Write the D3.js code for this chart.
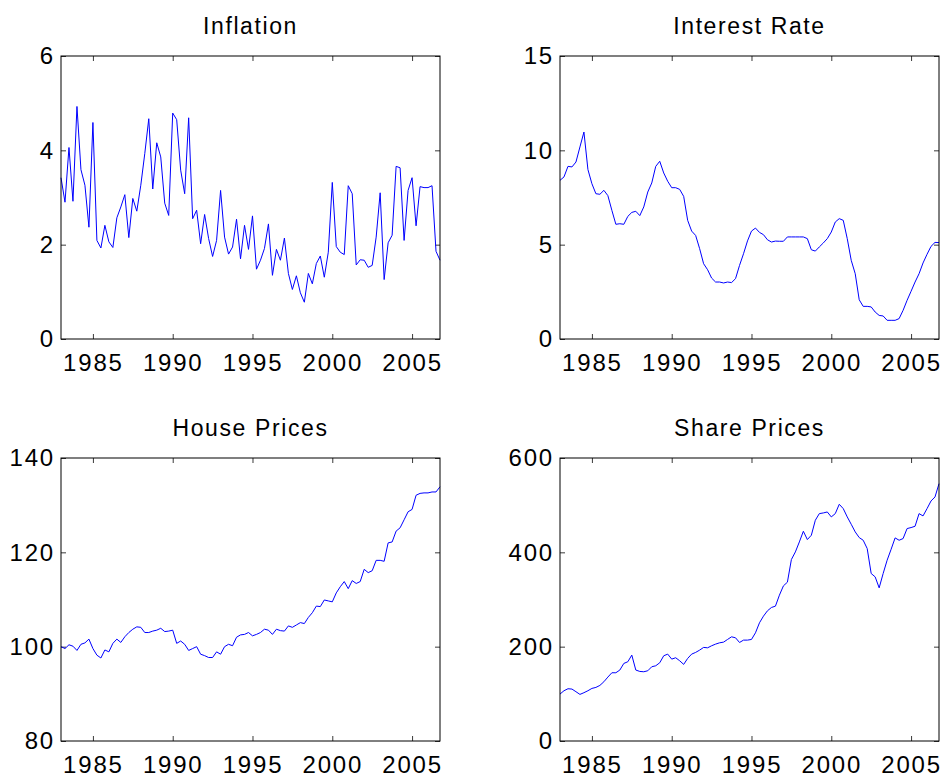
<!DOCTYPE html>
<html>
<head>
<meta charset="utf-8">
<script src="https://cdn.jsdelivr.net/npm/d3@7"></script>
<style>
  body { margin: 0; background: #fff; }
  svg text { font-family: "Liberation Sans", Arial, sans-serif; fill: #000; }
</style>
</head>
<body>
<svg id="chart"></svg>
<script>
// quarterly observations 1983Q1 .. 2006Q4
let startYear = 1983;

let inflation = [
    3.42, 2.90, 4.06, 2.92, 4.93, 3.59, 3.26, 2.37, 4.59, 2.09, 1.93, 2.41,
    2.06, 1.94, 2.57, 2.80, 3.06, 2.15, 2.98, 2.71, 3.26, 3.93, 4.67, 3.18,
    4.16, 3.86, 2.88, 2.62, 4.79, 4.65, 3.58, 3.08, 4.69, 2.55, 2.73, 2.02,
    2.64, 2.13, 1.75, 2.09, 3.15, 2.16, 1.80, 1.95, 2.54, 1.70, 2.41, 1.90,
    2.61, 1.48, 1.67, 1.92, 2.44, 1.35, 1.90, 1.67, 2.14, 1.39, 1.05, 1.34,
    0.98, 0.78, 1.39, 1.17, 1.60, 1.76, 1.31, 1.84, 3.32, 1.96, 1.84, 1.79,
    3.25, 3.08, 1.57, 1.68, 1.67, 1.52, 1.56, 2.16, 3.10, 1.26, 2.04, 2.20,
    3.66, 3.63, 2.09, 3.15, 3.42, 2.40, 3.23, 3.21, 3.21, 3.25, 1.86, 1.67
];

let interestRate = [
    8.41, 8.59, 9.15, 9.12, 9.38, 10.18, 10.97, 8.98, 8.23, 7.70, 7.67, 7.88,
    7.60, 6.82, 6.08, 6.11, 6.08, 6.50, 6.71, 6.77, 6.54, 7.00, 7.79, 8.27,
    9.15, 9.42, 8.80, 8.36, 8.02, 8.02, 7.93, 7.56, 6.29, 5.72, 5.49, 4.79,
    3.99, 3.67, 3.23, 3.02, 3.02, 2.97, 3.02, 2.99, 3.20, 3.90, 4.52, 5.20,
    5.72, 5.88, 5.65, 5.53, 5.26, 5.14, 5.19, 5.18, 5.18, 5.41, 5.41, 5.41,
    5.41, 5.41, 5.32, 4.73, 4.66, 4.88, 5.09, 5.32, 5.67, 6.20, 6.38, 6.29,
    5.32, 4.17, 3.46, 2.08, 1.73, 1.73, 1.70, 1.43, 1.25, 1.22, 0.99, 0.99,
    0.99, 1.08, 1.52, 2.05, 2.53, 3.02, 3.46, 4.03, 4.49, 4.91, 5.12, 5.11
];

let housePrices = [
    100.0, 99.6, 100.4, 100.1, 99.2, 100.5, 100.8, 101.6, 99.6, 98.2, 97.6, 99.3,
    98.9, 100.7, 101.6, 100.9, 102.1, 103.0, 103.7, 104.2, 104.1, 103.0, 103.0, 103.3,
    103.5, 103.9, 103.2, 103.3, 103.5, 100.7, 101.2, 100.5, 99.2, 99.6, 100.0, 98.4,
    98.1, 97.7, 97.7, 98.9, 98.4, 100.0, 100.5, 100.2, 102.0, 102.5, 102.6, 103.0,
    102.3, 102.6, 103.0, 103.7, 103.5, 102.6, 103.7, 103.4, 103.3, 104.4, 104.1, 104.6,
    105.1, 104.9, 106.2, 107.2, 108.6, 108.5, 109.9, 109.7, 109.5, 111.4, 112.7, 113.8,
    112.3, 114.0, 113.4, 113.8, 116.4, 115.7, 116.1, 118.3, 118.3, 118.1, 122.0, 122.2,
    124.5, 125.2, 126.9, 128.6, 129.1, 132.1, 132.5, 132.6, 132.6, 132.8, 132.8, 133.9
];

let sharePrices = [
    99.5, 106.6, 110.8, 110.1, 104.5, 98.8, 102.4, 106.6, 111.5, 113.6, 117.9, 125.6,
    135.5, 144.7, 144.7, 150.4, 164.5, 168.0, 182.1, 150.4, 147.5, 146.8, 148.9, 157.4,
    159.5, 165.9, 180.7, 184.2, 173.6, 176.5, 170.1, 162.4, 175.1, 184.2, 187.8, 192.7,
    198.4, 197.6, 201.9, 205.4, 208.2, 209.6, 215.3, 220.9, 218.8, 208.9, 213.9, 213.9,
    215.3, 229.4, 250.6, 264.7, 276.0, 283.1, 285.9, 309.2, 328.9, 336.7, 384.7, 400.9,
    422.1, 444.7, 427.1, 436.2, 468.0, 482.1, 483.5, 485.6, 475.1, 482.1, 501.9, 492.7,
    475.1, 459.5, 443.3, 431.3, 425.6, 408.0, 355.1, 348.0, 324.7, 355.1, 383.3, 406.6,
    430.6, 425.6, 429.2, 450.4, 452.5, 455.3, 482.1, 477.2, 492.7, 508.9, 517.4, 545.6
];

let xTicks = [1985, 1990, 1995, 2000, 2005];

let titles = ["Inflation", "Interest Rate", "House Prices", "Share Prices"];
let yDomains = [[0, 6], [0, 15], [80, 140], [0, 600]];
let yTickValues = [[0, 2, 4, 6], [0, 5, 10, 15], [80, 100, 120, 140], [0, 200, 400, 600]];
let series = [inflation, interestRate, housePrices, sharePrices];

let width = 947,
    height = 780;

let svg = d3.select("svg#chart")
    .attr("width", width)
    .attr("height", height);

// axes boxes, like matlab subplot(2,2,k)
let boxes = [
    {x0: 61, x1: 440, y0: 56, y1: 339},
    {x0: 560, x1: 939, y0: 56, y1: 339},
    {x0: 61, x1: 440, y0: 458, y1: 741},
    {x0: 560, x1: 939, y0: 458, y1: 741}
];

let tickLen = 5;

for (let k = 0; k < 4; k++) {
    let b = boxes[k];
    let values = series[k];
    let data = values.map((v, i) => ({t: startYear + i / 4, v: v}));

    let x = d3.scaleLinear()
        .domain([startYear, startYear + (values.length - 1) / 4])
        .range([b.x0, b.x1]);
    let y = d3.scaleLinear()
        .domain(yDomains[k])
        .range([b.y1, b.y0]);

    let g = svg.append("g");

    // bottom axis, ticks pointing inward
    let gx = g.append("g")
        .attr("transform", `translate(0, ${b.y1})`)
        .call(d3.axisBottom(x).tickValues(xTicks).tickFormat(d3.format("d"))
            .tickSize(-tickLen).tickPadding(15));
    // top mirror ticks
    let gxt = g.append("g")
        .attr("transform", `translate(0, ${b.y0})`)
        .call(d3.axisTop(x).tickValues(xTicks).tickFormat("").tickSize(-tickLen));

    let gy = g.append("g")
        .attr("transform", `translate(${b.x0}, 0)`)
        .call(d3.axisLeft(y).tickValues(yTickValues[k]).tickFormat(d3.format("d"))
            .tickSize(-tickLen).tickPadding(6));
    let gyr = g.append("g")
        .attr("transform", `translate(${b.x1}, 0)`)
        .call(d3.axisRight(y).tickValues(yTickValues[k]).tickFormat("").tickSize(-tickLen));

    [gx, gxt, gy, gyr].forEach(a => {
        a.select(".domain").remove();
        a.selectAll(".tick line").attr("stroke", "#3a3a3a");
        a.selectAll(".tick text")
            .attr("font-size", 24)
            .attr("letter-spacing", "1.8px")
            .attr("fill", "#000");
    });

    g.append("path")
        .datum(data)
        .attr("fill", "none")
        .attr("stroke", "#0000ff")
        .attr("stroke-width", 1)
        .attr("d", d3.line().x(d => x(d.t)).y(d => y(d.v)));

    g.append("rect")
        .attr("x", b.x0)
        .attr("y", b.y0)
        .attr("width", b.x1 - b.x0)
        .attr("height", b.y1 - b.y0)
        .attr("fill", "none")
        .attr("stroke", "#000")
        .attr("stroke-width", 1);

    g.append("text")
        .attr("x", (b.x0 + b.x1) / 2)
        .attr("y", b.y0 - 22)
        .attr("text-anchor", "middle")
        .attr("font-size", 23)
        .attr("letter-spacing", "1.6px")
        .text(titles[k]);
}
</script>
</body>
</html>
